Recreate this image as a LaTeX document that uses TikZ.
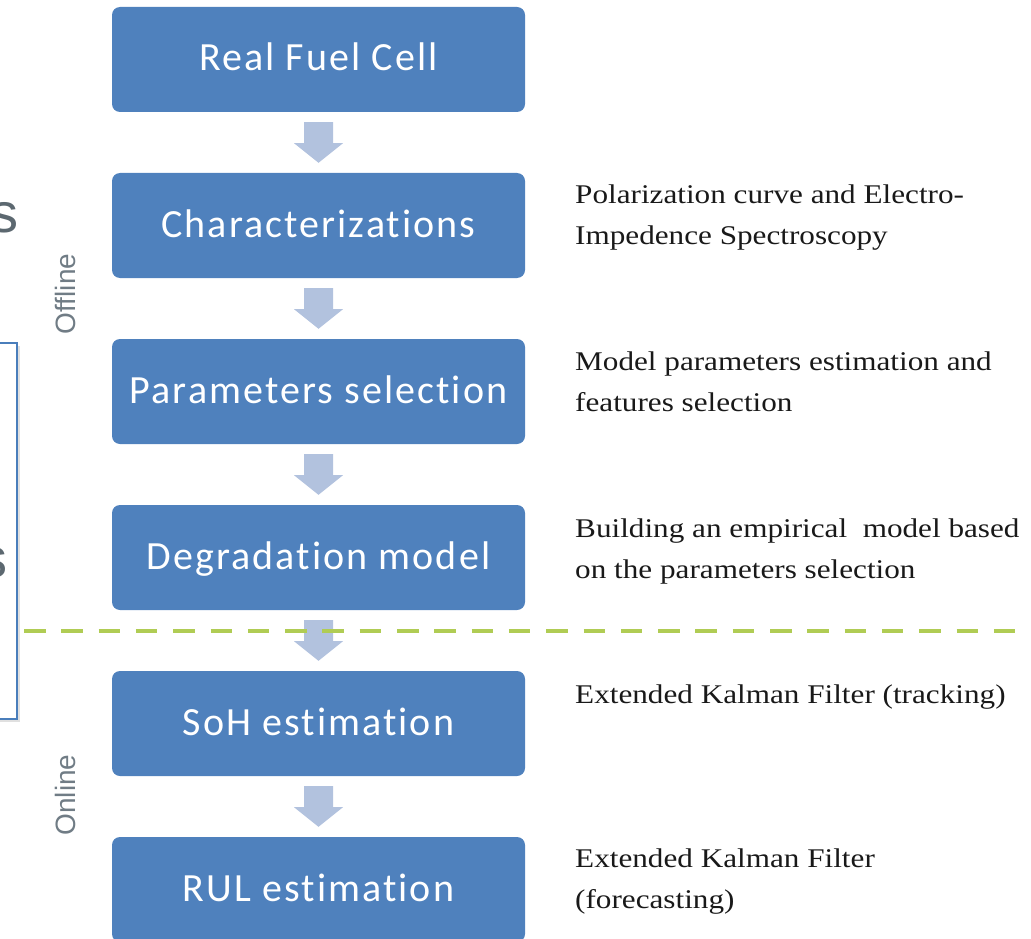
\documentclass[tikz,border=0pt]{standalone}
\usepackage{fontspec}
\setmainfont{Liberation Serif}
\newfontfamily\boxfont[LetterSpace=5.2,Ligatures={NoCommon}]{Carlito}
\newfontfamily\descfont[FakeStretch=1.155]{Liberation Serif}
\newfontfamily\sidefont{Liberation Sans}
\usetikzlibrary{calc}
\definecolor{boxblue}{RGB}{79,129,189}
\definecolor{arrowfill}{RGB}{178,194,222}
\definecolor{divgreen}{RGB}{176,204,84}
\definecolor{sidegray}{RGB}{112,124,133}
\definecolor{fraggray}{RGB}{92,104,112}
\definecolor{leftblue}{RGB}{74,126,187}
\tikzset{
  stepbox/.style={fill=boxblue, rounded corners=8pt, minimum width=413pt, minimum height=105pt,
    inner sep=0pt, text=white, text height=23pt, text depth=0pt,
    font=\boxfont\fontsize{40}{40}\selectfont},
  desc/.style={anchor=base west, inner sep=0pt, text=black!90,
    font=\descfont\fontsize{27}{41}\selectfont},
  sidelabel/.style={rotate=90, inner sep=0pt, text=sidegray,
    font=\sidefont\fontsize{28}{28}\selectfont},
  frag/.style={anchor=base east, inner sep=0pt, text=fraggray,
    font=\sidefont\fontsize{56}{56}\selectfont},
  flowarrow/.style={fill=arrowfill},
  divider/.style={draw=divgreen, line width=4.5pt, dash pattern=on 21.5pt off 15.8pt},
  leftframe/.style={draw=leftblue, line width=1.6pt, fill=white}
}
\newcommand{\blockarrow}[2]{%
  \fill[flowarrow] ($(#1.south)+(-14.5,10)$) -- ($(#1.south)+(14.5,10)$)
    -- ($(#1.south)+(14.5,31)$) -- ($(#1.south)+(24.5,31)$)
    -- ($(#2.north)+(0,-10)$)
    -- ($(#1.south)+(-24.5,31)$) -- ($(#1.south)+(-14.5,31)$) -- cycle;}
\begin{document}
\begin{tikzpicture}[x=1pt,y=-1pt]
\useasboundingbox (0,0) rectangle (1031,939);
\clip (0,0) rectangle (1031,939);
% left partial frame with shadow
\fill[black!12] (-10,346) rectangle (20,722);
\draw[leftframe] (-10,343) rectangle (17,719);
% cut-off text fragments
\node[frag] (s1) at (19,232) {s};
\node[frag] (s2) at (8,577) {s};
% side labels
\node[sidelabel] (off) at (65,294) {Offline};
\node[sidelabel] (on) at (65,795) {Online};
% main flow boxes
\node[stepbox] (b1) at (318.5,59.5) {Real Fuel Cell};
\node[stepbox] (b2) at (318.5,225.5) {Characterizations};
\node[stepbox] (b3) at (318.5,391.5) {Parameters selection};
\node[stepbox] (b4) at (318.5,557.5) {Degradation model};
\node[stepbox] (b5) at (318.5,723.5) {SoH estimation};
\node[stepbox] (b6) at (318.5,889.5) {RUL estimation};
% arrows
\blockarrow{b1}{b2}
\blockarrow{b2}{b3}
\blockarrow{b3}{b4}
\blockarrow{b4}{b5}
\blockarrow{b5}{b6}
% descriptions
\node[desc] (d1a) at (575,203) {Polarization curve and Electro-};
\node[desc] (d1b) at (575,244) {Impedence Spectroscopy};
\node[desc] (d2a) at (575,370) {Model parameters estimation and};
\node[desc] (d2b) at (575,411) {features selection};
\node[desc] (d3a) at (575,537) {Building an empirical\ \ model based};
\node[desc] (d3b) at (575,578) {on the parameters selection};
\node[desc] (d4a) at (575,703) {Extended Kalman Filter (tracking)};
\node[desc] (d5a) at (575,867) {Extended Kalman Filter};
\node[desc] (d5b) at (575,908) {(forecasting)};
% offline / online divider
\coordinate (divL) at (24,631);
\coordinate (divR) at (1040,631);
\draw[divider] (divL) -- (divR);
\end{tikzpicture}
\end{document}
